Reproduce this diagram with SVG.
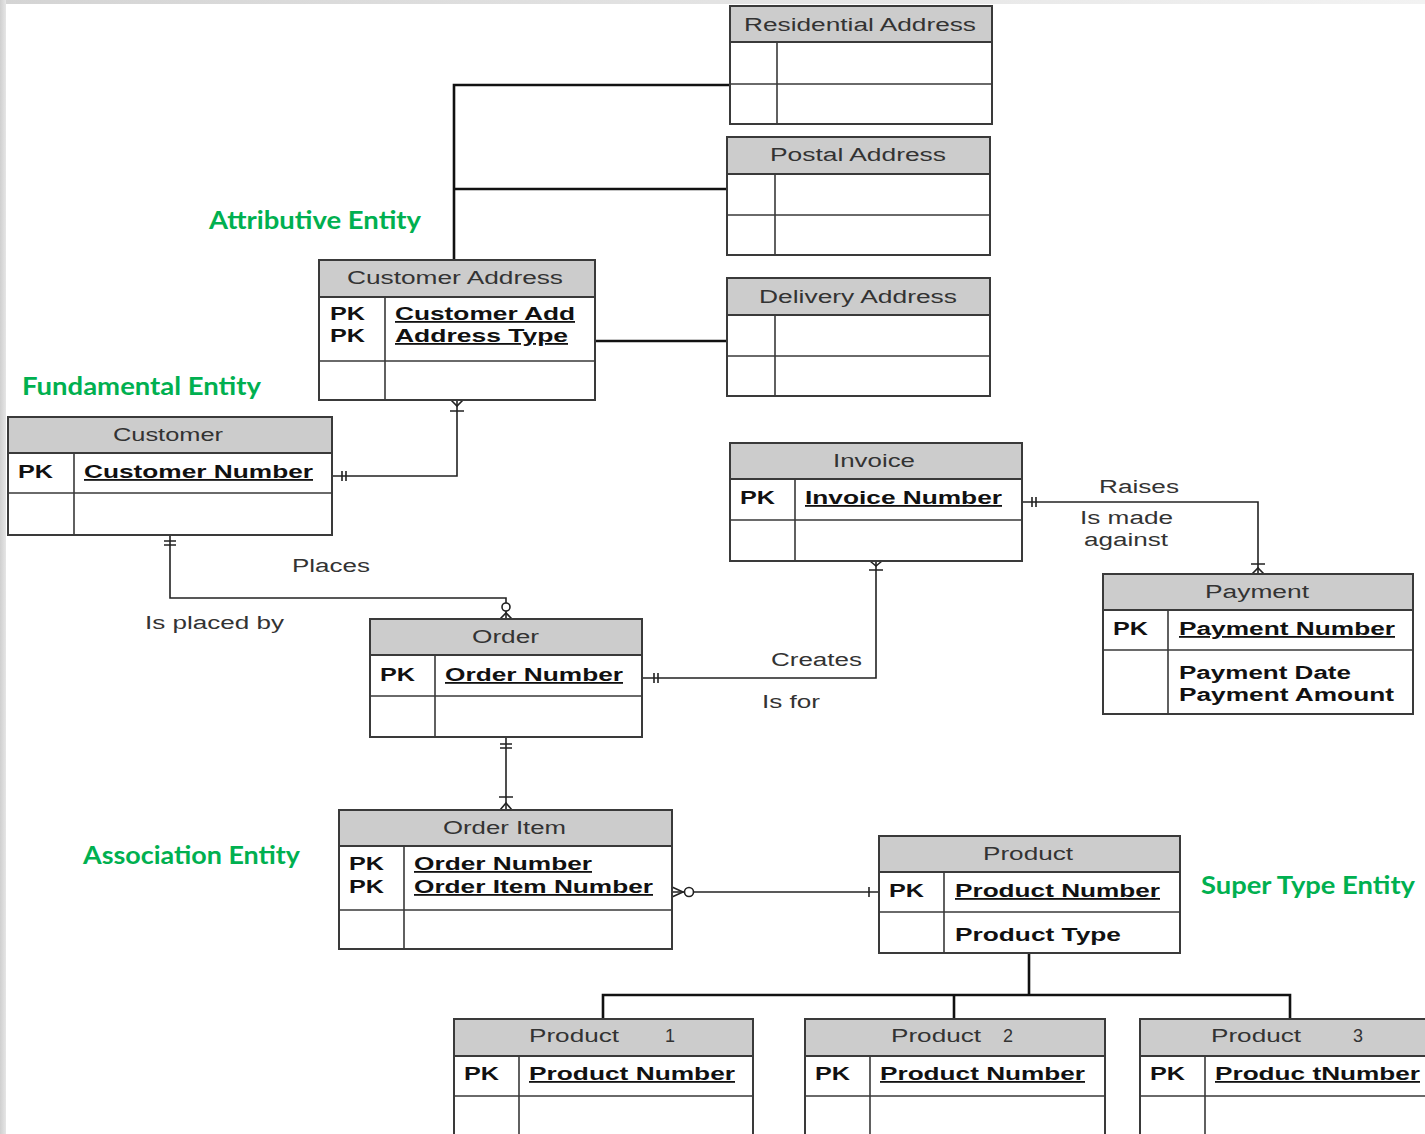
<svg xmlns="http://www.w3.org/2000/svg" width="1425" height="1134" viewBox="0 0 1425 1134">
  <defs>
    <linearGradient id="edgeL" x1="0" y1="0" x2="1" y2="0">
      <stop offset="0" stop-color="#cfcfcf"/>
      <stop offset="1" stop-color="#e6e6e6"/>
    </linearGradient>
    <linearGradient id="edgeT" x1="0" y1="0" x2="1" y2="0">
      <stop offset="0" stop-color="#d4d4d4"/>
      <stop offset="1" stop-color="#f2f2f2"/>
    </linearGradient>
    <style>
      .box{fill:#fff;stroke:#3a3a3a;stroke-width:2}
      .hd{fill:#cccccc;stroke:#3a3a3a;stroke-width:2}
      .ln{stroke:#3a3a3a;stroke-width:1.6;fill:none}
      .t{font-family:"Liberation Sans",Arial,sans-serif;font-size:18px;fill:#333}
      .b{font-weight:bold;fill:#111}
      .u{text-decoration:underline}
      .g{font-family:Lato,"Open Sans",sans-serif;font-weight:bold;font-size:24px;fill:#00b050}
      .rel{fill:none;stroke:#222;stroke-width:1.6}
      .thick{fill:none;stroke:#111;stroke-width:2.6}
    </style>
  </defs>

  <!-- page background with soft grey margin -->
  <rect x="0" y="0" width="1425" height="1134" fill="#fff"/>
  <rect x="0" y="0" width="1425" height="4" fill="url(#edgeT)"/>
  <rect x="0" y="0" width="6" height="1134" fill="url(#edgeL)"/>

  <!-- category captions -->
  <g id="captions">
    <text class="g" x="209" y="229" textLength="212" lengthAdjust="spacingAndGlyphs">Attributive Entity</text>
    <text class="g" x="22" y="395" textLength="239" lengthAdjust="spacingAndGlyphs">Fundamental Entity</text>
    <text class="g" x="83" y="864" textLength="217" lengthAdjust="spacingAndGlyphs">Association Entity</text>
    <text class="g" x="1201" y="894" textLength="214" lengthAdjust="spacingAndGlyphs">Super Type Entity</text>
  </g>

  <!-- relationships -->
  <g id="connectors">
    <!-- address sub-types -->
    <path class="thick" d="M454,260 V85 H730"/>
    <path class="thick" d="M454,189 H727"/>
    <path class="thick" d="M588,341 H727"/>

    <!-- Customer to Customer Address -->
    <path class="rel" d="M332,476 H457 V400"/>
    <path class="rel" d="M342,471 V481 M346,471 V481"/>
    <path class="rel" d="M451,400 L457,406 L463,400 M450,411 H464"/>

    <!-- Customer to Order -->
    <path class="rel" d="M170,535 V598 H506 V619"/>
    <path class="rel" d="M164,541 H176 M164,545 H176"/>
    <circle cx="506" cy="607" r="4" fill="#fff" stroke="#222" stroke-width="1.6"/>
    <path class="rel" d="M500,619 L506,613 L512,619"/>

    <!-- Order to Invoice -->
    <path class="rel" d="M642,678 H876 V561"/>
    <path class="rel" d="M654,673 V683 M658,673 V683"/>
    <path class="rel" d="M870,561 L876,566 L882,561 M869,570 H883"/>

    <!-- Invoice to Payment -->
    <path class="rel" d="M1022,502 H1258 V574"/>
    <path class="rel" d="M1032,497 V507 M1036,497 V507"/>
    <path class="rel" d="M1251,564 H1265 M1252,574 L1258,568 L1264,574"/>

    <!-- Order to Order Item -->
    <path class="rel" d="M506,737 V810"/>
    <path class="rel" d="M500,744 H512 M500,748 H512"/>
    <path class="rel" d="M499,797 H513 M500,810 L506,803 L512,810"/>

    <!-- Order Item to Product -->
    <path class="rel" d="M672,892 H879"/>
    <path class="rel" d="M672,887 L683,892 L672,897"/>
    <circle cx="689" cy="892" r="4.5" fill="#fff" stroke="#222" stroke-width="1.6"/>
    <path class="rel" d="M869,887 V897"/>

    <!-- Product sub-types -->
    <path class="thick" d="M1029,953 V995"/>
    <path class="thick" d="M603,1019 V995 H1290 V1019"/>
    <path class="thick" d="M954,995 V1019"/>
  </g>

  <!-- entities -->
  <g id="residential-address">
    <rect class="box" x="730" y="42" width="262" height="82"/>
    <rect class="hd" x="730" y="6" width="262" height="36"/>
    <path class="ln" d="M730,84 H992 M777,42 V124"/>
    <text class="t" x="744" y="31" textLength="232" lengthAdjust="spacingAndGlyphs">Residential Address</text>
  </g>

  <g id="postal-address">
    <rect class="box" x="727" y="174" width="263" height="81"/>
    <rect class="hd" x="727" y="137" width="263" height="37"/>
    <path class="ln" d="M727,215 H990 M775,174 V255"/>
    <text class="t" x="770" y="161" textLength="176" lengthAdjust="spacingAndGlyphs">Postal Address</text>
  </g>

  <g id="delivery-address">
    <rect class="box" x="727" y="315" width="263" height="81"/>
    <rect class="hd" x="727" y="278" width="263" height="37"/>
    <path class="ln" d="M727,356 H990 M775,315 V396"/>
    <text class="t" x="759" y="303" textLength="198" lengthAdjust="spacingAndGlyphs">Delivery Address</text>
  </g>

  <g id="customer-address">
    <rect class="box" x="319" y="297" width="276" height="103"/>
    <rect class="hd" x="319" y="260" width="276" height="37"/>
    <path class="ln" d="M319,361 H595 M385,297 V400"/>
    <text class="t" x="347" y="284" textLength="216" lengthAdjust="spacingAndGlyphs">Customer Address</text>
    <text class="t b" x="330" y="320" textLength="35" lengthAdjust="spacingAndGlyphs">PK</text>
    <text class="t b" x="330" y="342" textLength="35" lengthAdjust="spacingAndGlyphs">PK</text>
    <text class="t b u" x="395" y="320" textLength="180" lengthAdjust="spacingAndGlyphs">Customer Add</text>
    <text class="t b u" x="395" y="342" textLength="173" lengthAdjust="spacingAndGlyphs">Address Type</text>
  </g>

  <g id="customer">
    <rect class="box" x="8" y="453" width="324" height="82"/>
    <rect class="hd" x="8" y="417" width="324" height="36"/>
    <path class="ln" d="M8,493 H332 M74,453 V535"/>
    <text class="t" x="113" y="441" textLength="110" lengthAdjust="spacingAndGlyphs">Customer</text>
    <text class="t b" x="18" y="478" textLength="35" lengthAdjust="spacingAndGlyphs">PK</text>
    <text class="t b u" x="84" y="478" textLength="229" lengthAdjust="spacingAndGlyphs">Customer Number</text>
  </g>

  <g id="invoice">
    <rect class="box" x="730" y="479" width="292" height="82"/>
    <rect class="hd" x="730" y="443" width="292" height="36"/>
    <path class="ln" d="M730,520 H1022 M795,479 V561"/>
    <text class="t" x="833" y="467" textLength="82" lengthAdjust="spacingAndGlyphs">Invoice</text>
    <text class="t b" x="740" y="504" textLength="35" lengthAdjust="spacingAndGlyphs">PK</text>
    <text class="t b u" x="805" y="504" textLength="197" lengthAdjust="spacingAndGlyphs">Invoice Number</text>
  </g>

  <g id="payment">
    <rect class="box" x="1103" y="610" width="310" height="104"/>
    <rect class="hd" x="1103" y="574" width="310" height="36"/>
    <path class="ln" d="M1103,650 H1413 M1168,610 V714"/>
    <text class="t" x="1205" y="598" textLength="104" lengthAdjust="spacingAndGlyphs">Payment</text>
    <text class="t b" x="1113" y="635" textLength="35" lengthAdjust="spacingAndGlyphs">PK</text>
    <text class="t b u" x="1179" y="635" textLength="216" lengthAdjust="spacingAndGlyphs">Payment Number</text>
    <text class="t b" x="1179" y="679" textLength="172" lengthAdjust="spacingAndGlyphs">Payment Date</text>
    <text class="t b" x="1179" y="701" textLength="215" lengthAdjust="spacingAndGlyphs">Payment Amount</text>
  </g>

  <g id="order">
    <rect class="box" x="370" y="655" width="272" height="82"/>
    <rect class="hd" x="370" y="619" width="272" height="36"/>
    <path class="ln" d="M370,696 H642 M435,655 V737"/>
    <text class="t" x="472" y="643" textLength="67" lengthAdjust="spacingAndGlyphs">Order</text>
    <text class="t b" x="380" y="681" textLength="35" lengthAdjust="spacingAndGlyphs">PK</text>
    <text class="t b u" x="445" y="681" textLength="178" lengthAdjust="spacingAndGlyphs">Order Number</text>
  </g>

  <g id="order-item">
    <rect class="box" x="339" y="846" width="333" height="103"/>
    <rect class="hd" x="339" y="810" width="333" height="36"/>
    <path class="ln" d="M339,910 H672 M404,846 V949"/>
    <text class="t" x="443" y="834" textLength="123" lengthAdjust="spacingAndGlyphs">Order Item</text>
    <text class="t b" x="349" y="870" textLength="35" lengthAdjust="spacingAndGlyphs">PK</text>
    <text class="t b" x="349" y="893" textLength="35" lengthAdjust="spacingAndGlyphs">PK</text>
    <text class="t b u" x="414" y="870" textLength="178" lengthAdjust="spacingAndGlyphs">Order Number</text>
    <text class="t b u" x="414" y="893" textLength="239" lengthAdjust="spacingAndGlyphs">Order Item Number</text>
  </g>

  <g id="product">
    <rect class="box" x="879" y="872" width="301" height="81"/>
    <rect class="hd" x="879" y="836" width="301" height="36"/>
    <path class="ln" d="M879,912 H1180 M944,872 V953"/>
    <text class="t" x="983" y="860" textLength="90" lengthAdjust="spacingAndGlyphs">Product</text>
    <text class="t b" x="889" y="897" textLength="35" lengthAdjust="spacingAndGlyphs">PK</text>
    <text class="t b u" x="955" y="897" textLength="205" lengthAdjust="spacingAndGlyphs">Product Number</text>
    <text class="t b" x="955" y="941" textLength="166" lengthAdjust="spacingAndGlyphs">Product Type</text>
  </g>

  <g id="product-1">
    <rect class="box" x="454" y="1056" width="299" height="90"/>
    <rect class="hd" x="454" y="1019" width="299" height="37"/>
    <path class="ln" d="M454,1096 H753 M519,1056 V1146"/>
    <text class="t"><tspan x="529" y="1042" textLength="90" lengthAdjust="spacingAndGlyphs">Product</tspan><tspan x="665" y="1042">1</tspan></text>
    <text class="t b" x="464" y="1080" textLength="35" lengthAdjust="spacingAndGlyphs">PK</text>
    <text class="t b u" x="529" y="1080" textLength="206" lengthAdjust="spacingAndGlyphs">Product Number</text>
  </g>

  <g id="product-2">
    <rect class="box" x="805" y="1056" width="300" height="90"/>
    <rect class="hd" x="805" y="1019" width="300" height="37"/>
    <path class="ln" d="M805,1096 H1105 M870,1056 V1146"/>
    <text class="t"><tspan x="891" y="1042" textLength="90" lengthAdjust="spacingAndGlyphs">Product</tspan><tspan x="1003" y="1042">2</tspan></text>
    <text class="t b" x="815" y="1080" textLength="35" lengthAdjust="spacingAndGlyphs">PK</text>
    <text class="t b u" x="880" y="1080" textLength="205" lengthAdjust="spacingAndGlyphs">Product Number</text>
  </g>

  <g id="product-3">
    <rect class="box" x="1140" y="1056" width="300" height="90"/>
    <rect class="hd" x="1140" y="1019" width="300" height="37"/>
    <path class="ln" d="M1140,1096 H1440 M1205,1056 V1146"/>
    <text class="t"><tspan x="1211" y="1042" textLength="90" lengthAdjust="spacingAndGlyphs">Product</tspan><tspan x="1353" y="1042">3</tspan></text>
    <text class="t b" x="1150" y="1080" textLength="35" lengthAdjust="spacingAndGlyphs">PK</text>
    <text class="t b u" x="1215" y="1080" textLength="205" lengthAdjust="spacingAndGlyphs">Produc tNumber</text>
  </g>

  <!-- relationship verbs -->
  <g id="labels">
    <text class="t" x="292" y="572" textLength="78" lengthAdjust="spacingAndGlyphs">Places</text>
    <text class="t" x="145" y="629" textLength="139" lengthAdjust="spacingAndGlyphs">Is placed by</text>
    <text class="t" x="771" y="666" textLength="91" lengthAdjust="spacingAndGlyphs">Creates</text>
    <text class="t" x="762" y="708" textLength="58" lengthAdjust="spacingAndGlyphs">Is for</text>
    <text class="t" x="1099" y="493" textLength="80" lengthAdjust="spacingAndGlyphs">Raises</text>
    <text class="t" x="1080" y="524" textLength="93" lengthAdjust="spacingAndGlyphs">Is made</text>
    <text class="t" x="1084" y="546" textLength="84" lengthAdjust="spacingAndGlyphs">against</text>
  </g>
</svg>
